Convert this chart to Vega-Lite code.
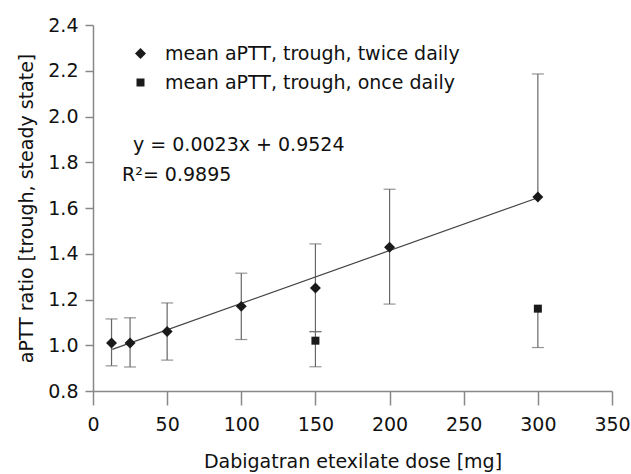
{
  "$schema": "https://vega.github.io/schema/vega-lite/v6.json",
  "autosize": {"type": "none"},
  "width": 519,
  "height": 366,
  "padding": {"left": 93, "top": 25, "right": 19, "bottom": 83},
  "background": "white",
  "config": {
    "view": {"stroke": null},
    "font": "DejaVu Sans",
    "axis": {"grid": false, "domainColor": "#888", "domainWidth": 1.5, "tickColor": "#888", "tickWidth": 1.5, "labelColor": "#111", "titleColor": "#111", "labelFont": "DejaVu Sans", "titleFont": "DejaVu Sans", "titleFontWeight": "normal", "labelFontSize": 19, "titleFontSize": 19}
  },
  "datasets": {
    "pts": [
      {"dose": 12.5, "mean": 1.01, "lo": 0.91, "hi": 1.115, "series": "mean aPTT, trough, twice daily"},
      {"dose": 25, "mean": 1.01, "lo": 0.905, "hi": 1.12, "series": "mean aPTT, trough, twice daily"},
      {"dose": 50, "mean": 1.06, "lo": 0.935, "hi": 1.185, "series": "mean aPTT, trough, twice daily"},
      {"dose": 100, "mean": 1.17, "lo": 1.025, "hi": 1.315, "series": "mean aPTT, trough, twice daily"},
      {"dose": 150, "mean": 1.25, "lo": 1.06, "hi": 1.443, "series": "mean aPTT, trough, twice daily"},
      {"dose": 200, "mean": 1.428, "lo": 1.18, "hi": 1.682, "series": "mean aPTT, trough, twice daily"},
      {"dose": 300, "mean": 1.648, "lo": 1.648, "hi": 2.186, "series": "mean aPTT, trough, twice daily"},
      {"dose": 150, "mean": 1.02, "lo": 0.906, "hi": 1.059, "series": "mean aPTT, trough, once daily"},
      {"dose": 300, "mean": 1.16, "lo": 0.99, "hi": 1.16, "series": "mean aPTT, trough, once daily"}
    ],
    "fit": [
      {"dose": 13, "ratio": 0.982},
      {"dose": 300, "ratio": 1.645}
    ],
    "notes": [
      {"dose": 27, "ratio": 1.875, "label": "y = 0.0023x + 0.9524"},
      {"dose": 19.6, "ratio": 1.744, "label": "R²= 0.9895"}
    ]
  },
  "layer": [
    {
      "data": {"name": "pts"},
      "mark": {"type": "rule", "color": "#666", "strokeWidth": 1.2},
      "encoding": {
        "x": {"field": "dose", "type": "quantitative", "scale": {"domain": [0, 350], "nice": false},
          "axis": {"values": [0,25,50,75,100,125,150,175,200,225,250,275,300,325,350], "labelExpr": "datum.value % 50 == 0 ? datum.label : ''", "tickSize": 14, "labelPadding": 10, "title": "Dabigatran etexilate dose [mg]", "titlePadding": 18, "labelFlush": false, "labelOverlap": false}},
        "y": {"field": "lo", "type": "quantitative", "scale": {"domain": [0.8, 2.4], "nice": false, "zero": false},
          "axis": {"values": [0.8,0.9,1.0,1.1,1.2,1.3,1.4,1.5,1.6,1.7,1.8,1.9,2.0,2.1,2.2,2.3,2.4], "labelExpr": "round(datum.value*10) % 2 == 0 ? format(datum.value, '.1f') : ''", "tickSize": 8, "labelPadding": 7, "title": "aPTT ratio [trough, steady state]", "titlePadding": 11, "labelFlush": false, "labelOverlap": false}},
        "y2": {"field": "hi"}
      }
    },
    {
      "data": {"name": "pts"},
      "transform": [
        {"fold": ["lo", "hi"], "as": ["end", "val"]},
        {"filter": "datum.val != datum.mean"}
      ],
      "mark": {"type": "tick", "orient": "horizontal", "color": "#666", "size": 12, "thickness": 1.2},
      "encoding": {
        "x": {"field": "dose", "type": "quantitative"},
        "y": {"field": "val", "type": "quantitative"}
      }
    },
    {
      "data": {"name": "fit"},
      "mark": {"type": "line", "color": "#444", "strokeWidth": 1.2},
      "encoding": {
        "x": {"field": "dose", "type": "quantitative"},
        "y": {"field": "ratio", "type": "quantitative"}
      }
    },
    {
      "data": {"name": "pts"},
      "mark": {"type": "point", "filled": true, "opacity": 1, "color": "#1a1a1a"},
      "encoding": {
        "x": {"field": "dose", "type": "quantitative"},
        "y": {"field": "mean", "type": "quantitative"},
        "shape": {"field": "series", "type": "nominal",
          "scale": {"domain": ["mean aPTT, trough, twice daily", "mean aPTT, trough, once daily"], "range": ["diamond", "square"]},
          "legend": {"title": null, "orient": "none", "legendX": 38, "legendY": 19, "padding": 0, "labelFontSize": 19, "labelFont": "DejaVu Sans", "labelColor": "#111", "labelOffset": 15, "labelLimit": 500, "rowPadding": 9, "symbolFillColor": "#1a1a1a", "symbolStrokeColor": "#1a1a1a", "symbolStrokeWidth": 0, "symbolOpacity": 1}},
        "size": {"field": "series", "type": "nominal", "scale": {"domain": ["mean aPTT, trough, twice daily", "mean aPTT, trough, once daily"], "range": [120, 64]},
          "legend": {"title": null, "orient": "none", "legendX": 38, "legendY": 19, "padding": 0, "labelFontSize": 19, "labelFont": "DejaVu Sans", "labelColor": "#111", "labelOffset": 15, "labelLimit": 500, "rowPadding": 9, "symbolFillColor": "#1a1a1a", "symbolStrokeColor": "#1a1a1a", "symbolStrokeWidth": 0, "symbolOpacity": 1}}
      }
    },
    {
      "data": {"name": "notes"},
      "mark": {"type": "text", "align": "left", "baseline": "middle", "fontSize": 19, "font": "DejaVu Sans", "color": "#111"},
      "encoding": {
        "x": {"field": "dose", "type": "quantitative"},
        "y": {"field": "ratio", "type": "quantitative"},
        "text": {"field": "label"}
      }
    }
  ]
}
